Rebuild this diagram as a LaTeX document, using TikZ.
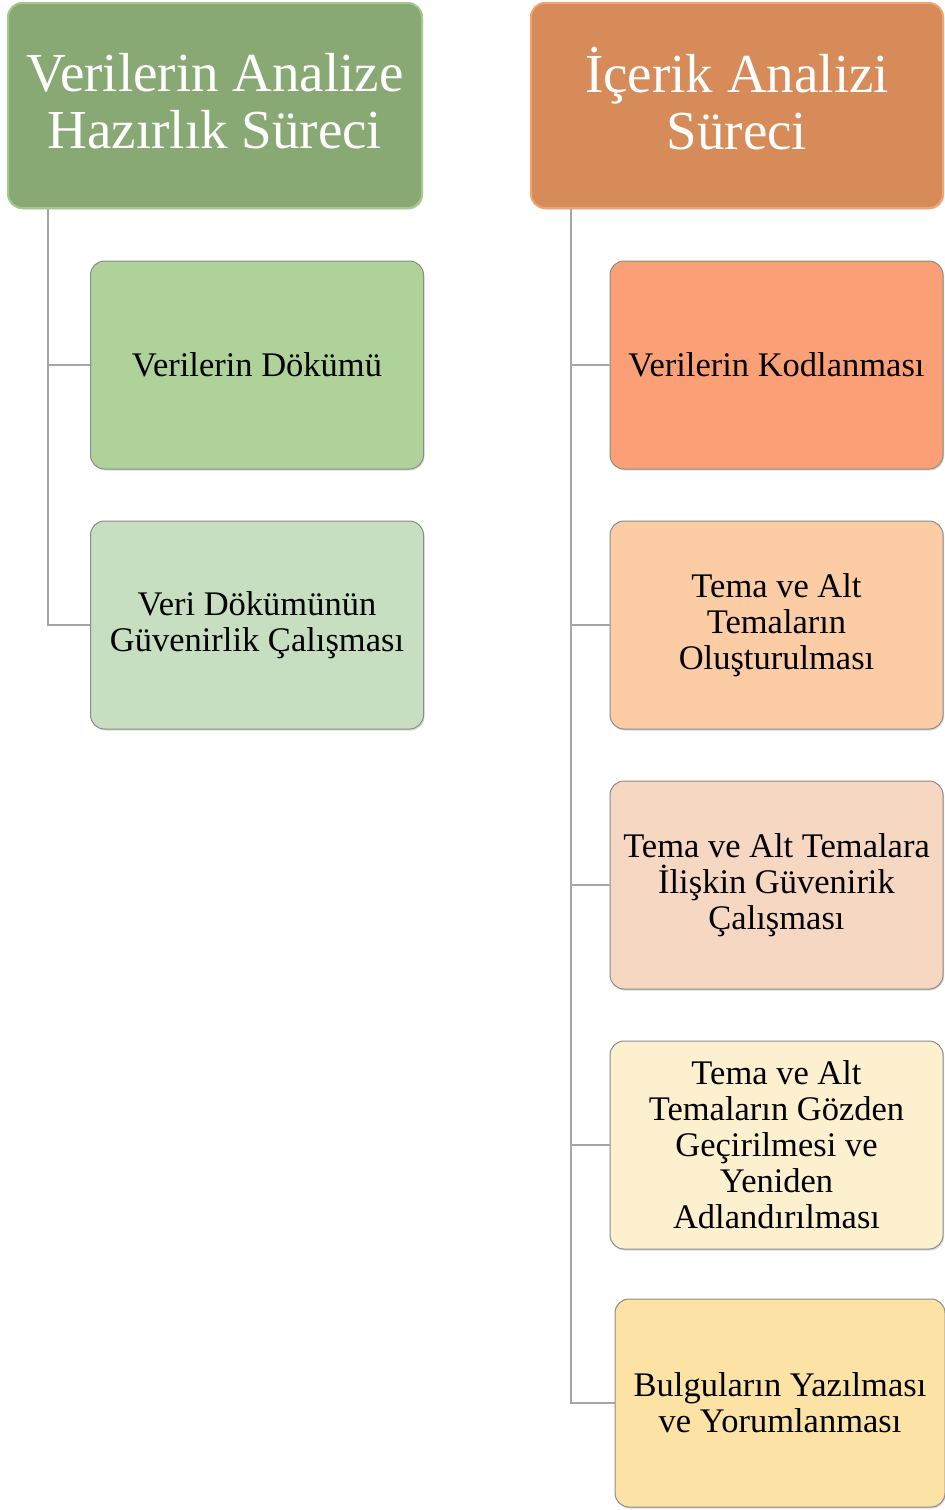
\documentclass[tikz,border=0pt]{standalone}
\usepackage{fontspec}
\setmainfont{Liberation Serif}
\usetikzlibrary{shadows}
\definecolor{hgreen}{RGB}{136,168,116}
\definecolor{hgreenedge}{RGB}{165,200,140}
\definecolor{horange}{RGB}{214,139,89}
\definecolor{horangeedge}{RGB}{240,165,110}
\definecolor{cA}{RGB}{174,210,154}
\definecolor{cB}{RGB}{199,223,192}
\definecolor{cC}{RGB}{251,160,118}
\definecolor{cD}{RGB}{252,204,164}
\definecolor{cE}{RGB}{245,215,194}
\definecolor{cF}{RGB}{253,240,207}
\definecolor{cG}{RGB}{252,226,165}
\definecolor{conncol}{RGB}{166,166,166}
\definecolor{boxedge}{RGB}{140,140,140}
\tikzset{
  headbox/.style={rectangle, rounded corners=14pt, minimum width=#1, minimum height=205pt,
    inner sep=0pt, align=center, text=white, font=\fontsize{55}{57}\selectfont,
    line width=2pt, drop shadow={shadow xshift=1pt, shadow yshift=-1.5pt, opacity=0.35}},
  childbox/.style={rectangle, rounded corners=14pt, minimum width=333pt, minimum height=208pt,
    inner sep=0pt, align=center, text=black, font=\fontsize{34.5}{36}\selectfont,
    draw=boxedge, line width=1pt, drop shadow={shadow xshift=1pt, shadow yshift=-1.5pt, opacity=0.3}},
  conn/.style={draw=conncol, line width=2pt}
}
\begin{document}
\begin{tikzpicture}[x=1pt,y=-1pt]
\useasboundingbox (0,0) rectangle (945,1510);
% headers
\node[headbox=414pt, fill=hgreen, draw=hgreenedge, text depth=9pt] (lh) at (215,105.5) {Verilerin Analize\\Hazırlık Süreci};
\node[headbox=412pt, fill=horange, draw=horangeedge, text depth=15pt] (rh) at (737,105.5) {İçerik Analizi\\Süreci};
% left children
\node[childbox, fill=cA] (l1) at (257,365) {Verilerin Dökümü};
\node[childbox, fill=cB] (l2) at (257,625) {Veri Dökümünün\\Güvenirlik Çalışması};
% right children
\node[childbox, fill=cC] (r1) at (776.5,365) {Verilerin Kodlanması};
\node[childbox, fill=cD] (r2) at (776.5,625) {Tema ve Alt\\Temaların\\Oluşturulması};
\node[childbox, fill=cE] (r3) at (776.5,885) {Tema ve Alt Temalara\\İlişkin Güvenirik\\Çalışması};
\node[childbox, fill=cF] (r4) at (776.5,1145) {Tema ve Alt\\Temaların Gözden\\Geçirilmesi ve\\Yeniden\\Adlandırılması};
\node[childbox, fill=cG, minimum width=330pt] (r5) at (780,1403) {Bulguların Yazılması\\ve Yorumlanması};
% trunk start points
\coordinate (lt) at (lh.south -| 48,0);
\coordinate (rt) at (rh.south -| 571,0);
% connectors
\draw[conn] (lt) |- (l1.west);
\draw[conn] (lt) |- (l2.west);
\draw[conn] (rt) |- (r1.west);
\draw[conn] (rt) |- (r2.west);
\draw[conn] (rt) |- (r3.west);
\draw[conn] (rt) |- (r4.west);
\draw[conn] (rt) |- (r5.west);
\end{tikzpicture}
\end{document}
